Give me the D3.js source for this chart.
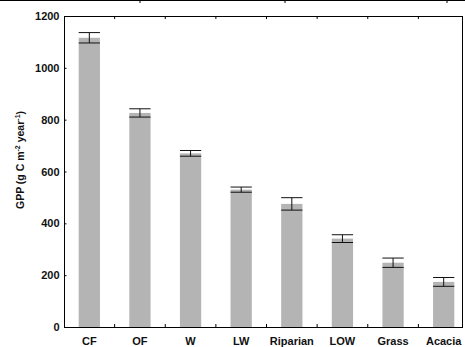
<!DOCTYPE html>
<html>
<head>
<meta charset="utf-8">
<script src="https://cdn.jsdelivr.net/npm/d3@7"></script>
<style>
  body { margin: 0; background: #fff; }
  svg { display: block; font-family: "Liberation Sans", Arial, sans-serif; }
</style>
</head>
<body>
<div id="chart"></div>
<script>
const categories = ["CF", "OF", "W", "LW", "Riparian", "LOW", "Grass", "Acacia"];
const gpp = [1116, 826, 670, 530, 475, 341, 248, 174];
const gppErr = [20, 16, 11, 10, 24, 15, 18, 17];
const yTicks = [0, 200, 400, 600, 800, 1000, 1200];

const width = 465;
const height = 347;
const margin = {top: 16, right: 2, bottom: 20, left: 64};

const svg = d3.select("#chart").append("svg")
  .attr("width", width)
  .attr("height", height);

const plotRight = width - margin.right;
const plotBottom = height - margin.bottom;

// band scale runs a bit past the frame, like the original
const x = d3.scaleBand()
  .domain(categories)
  .range([margin.left, 469])
  .padding(0);

const y = d3.scaleLinear()
  .domain([0, 1200])
  .range([plotBottom, margin.top]);

const barW = x.bandwidth() * 0.42;

// page border line at the very top
svg.append("line")
  .attr("x1", 0).attr("x2", width)
  .attr("y1", 0.5).attr("y2", 0.5)
  .attr("stroke", "#000").attr("stroke-width", 1.2);
[140, 285, 447].forEach(px => {
  svg.append("line")
    .attr("x1", px).attr("x2", px)
    .attr("y1", 0).attr("y2", 3)
    .attr("stroke", "#000");
});

// bars
svg.selectAll("rect.bar")
  .data(categories)
  .join("rect")
  .attr("class", "bar")
  .attr("x", d => x(d) + (x.bandwidth() - barW) / 2)
  .attr("y", (d, i) => y(gpp[i]))
  .attr("width", barW)
  .attr("height", (d, i) => y(0) - y(gpp[i]))
  .attr("fill", "#b4b4b4");

// error bars
const eb = svg.selectAll("g.err")
  .data(categories)
  .join("g")
  .attr("class", "err")
  .attr("stroke", "#111")
  .attr("stroke-width", 1);

eb.append("line")
  .attr("x1", d => x(d) + x.bandwidth() / 2)
  .attr("x2", d => x(d) + x.bandwidth() / 2)
  .attr("y1", (d, i) => y(gpp[i] - gppErr[i]))
  .attr("y2", (d, i) => y(gpp[i] + gppErr[i]));

eb.append("line")
  .attr("x1", d => x(d) + (x.bandwidth() - barW) / 2)
  .attr("x2", d => x(d) + (x.bandwidth() + barW) / 2)
  .attr("y1", (d, i) => y(gpp[i] + gppErr[i]))
  .attr("y2", (d, i) => y(gpp[i] + gppErr[i]));

eb.append("line")
  .attr("x1", d => x(d) + (x.bandwidth() - barW) / 2)
  .attr("x2", d => x(d) + (x.bandwidth() + barW) / 2)
  .attr("y1", (d, i) => y(gpp[i] - gppErr[i]))
  .attr("y2", (d, i) => y(gpp[i] - gppErr[i]));

// frame
svg.append("rect")
  .attr("x", margin.left + 0.5)
  .attr("y", margin.top + 0.5)
  .attr("width", plotRight - margin.left - 1)
  .attr("height", plotBottom - margin.top)
  .attr("fill", "none")
  .attr("stroke", "#000")
  .attr("stroke-width", 1);

// category separator ticks, top and bottom
const seps = categories.slice(1).map(c => x(c));
svg.selectAll("line.sepb")
  .data(seps)
  .join("line")
  .attr("x1", d => d).attr("x2", d => d)
  .attr("y1", plotBottom).attr("y2", plotBottom - 3)
  .attr("stroke", "#000");
svg.selectAll("line.sept")
  .data(seps)
  .join("line")
  .attr("x1", d => d).attr("x2", d => d)
  .attr("y1", margin.top).attr("y2", margin.top + 3)
  .attr("stroke", "#000");

// y axis
const yAxis = svg.append("g")
  .attr("transform", `translate(${margin.left + 0.5},0)`)
  .call(d3.axisLeft(y).tickValues(yTicks).tickSize(-2).tickPadding(5).tickFormat(d3.format("d")));
yAxis.select(".domain").remove();
yAxis.selectAll("text")
  .attr("font-size", "11px")
  .attr("font-weight", "bold")
  .attr("fill", "#111")
  .attr("font-family", "Liberation Sans, Arial, sans-serif");

// x labels
svg.selectAll("text.xl")
  .data(categories)
  .join("text")
  .attr("class", "xl")
  .attr("x", d => x(d) + x.bandwidth() / 2)
  .attr("y", 345)
  .attr("text-anchor", "middle")
  .attr("font-size", "11px")
  .attr("font-weight", "bold")
  .attr("fill", "#111")
  .text(d => d);

// y title
const yt = svg.append("text")
  .attr("transform", "translate(24,160) rotate(-90)")
  .attr("text-anchor", "middle")
  .attr("font-size", "10.5px")
  .attr("font-weight", "bold")
  .attr("fill", "#111");
yt.append("tspan").text("GPP (g C m");
yt.append("tspan").attr("dy", "-4").attr("font-size", "7px").text("-2");
yt.append("tspan").attr("dy", "4").text(" year");
yt.append("tspan").attr("dy", "-4").attr("font-size", "7px").text("-1");
yt.append("tspan").attr("dy", "4").text(")");
</script>
</body>
</html>
